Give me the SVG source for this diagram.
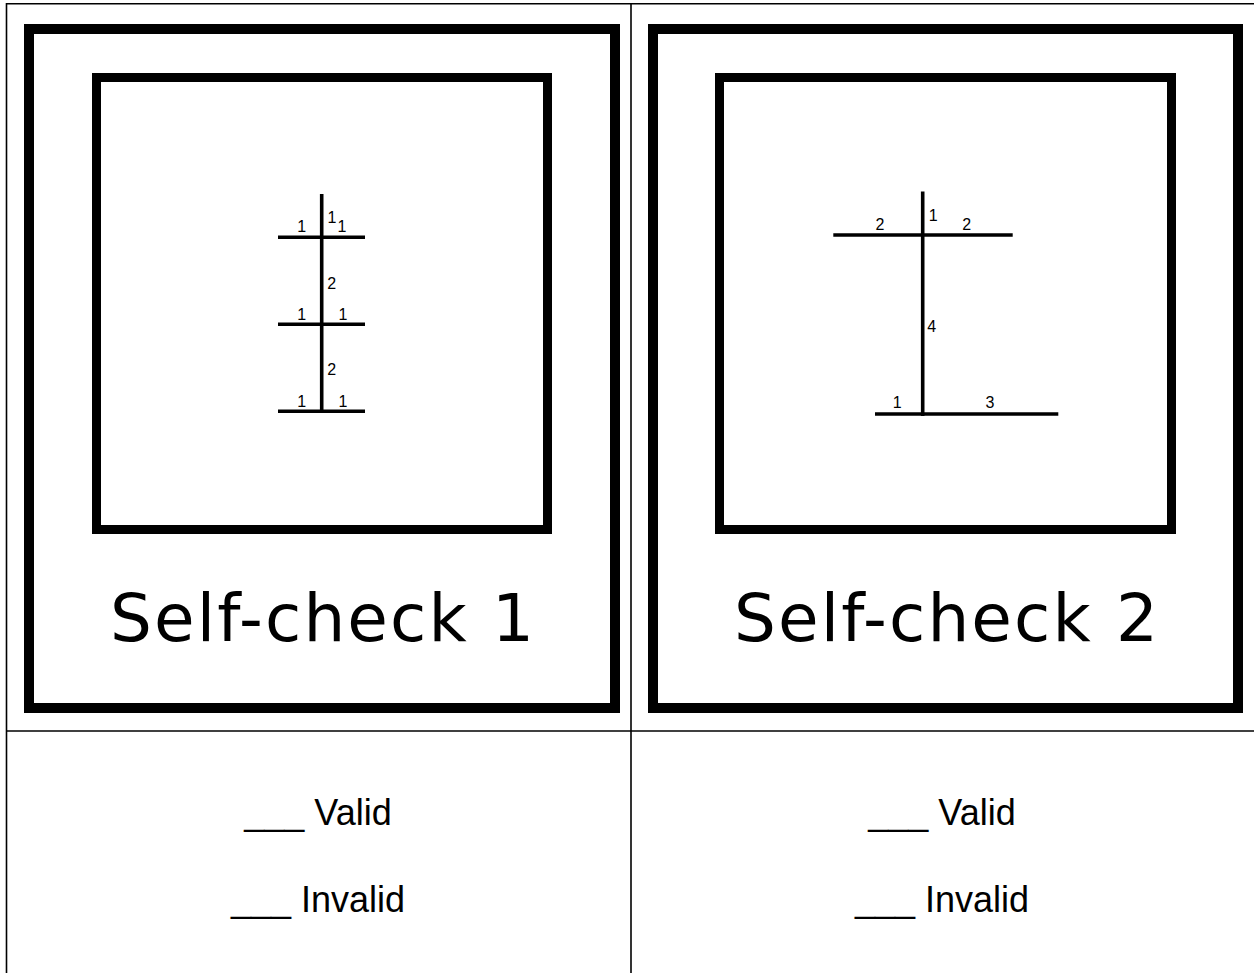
<svg xmlns="http://www.w3.org/2000/svg" width="1254" height="973" viewBox="0 0 1254 973">
<style>
.grid{stroke:#000;stroke-width:1.6;fill:none}
.frame{fill:none;stroke:#000;stroke-width:10}
.inner{fill:none;stroke:#000;stroke-width:9}
.bar{stroke:#000;stroke-width:3.6;stroke-linecap:butt}
.num{font-family:"Liberation Sans",Arial,sans-serif;font-size:16px;fill:#000;text-anchor:middle}
.title{font-family:"DejaVu Sans",Verdana,sans-serif;font-size:66px;fill:#000;text-anchor:middle}
.ans{font-family:"Liberation Sans",Arial,sans-serif;font-size:36px;fill:#000;text-anchor:middle}
</style>
<rect width="1254" height="973" fill="#fff"/>
<g id="table">
<line class="grid" x1="6.5" y1="3.7" x2="1254" y2="3.7"/>
<line class="grid" x1="6.5" y1="3" x2="6.5" y2="973"/>
<line class="grid" x1="631" y1="3" x2="631" y2="973"/>
<line class="grid" x1="6" y1="731" x2="1254" y2="731"/>
</g>
<g id="card1">
<rect class="frame" x="29" y="29" width="586" height="679"/>
<rect class="inner" x="96.5" y="77.5" width="451" height="452"/>
<text class="title" x="322" y="641" textLength="424" lengthAdjust="spacing">Self-check 1</text>
</g>
<g id="figure1">
<line class="bar" x1="321.7" y1="194" x2="321.7" y2="413"/>
<line class="bar" x1="278" y1="237.3" x2="365" y2="237.3"/>
<line class="bar" x1="278" y1="324.3" x2="365" y2="324.3"/>
<line class="bar" x1="278" y1="411.3" x2="365" y2="411.3"/>
<text class="num" x="301.7" y="231.5">1</text>
<text class="num" x="332" y="222.5">1</text>
<text class="num" x="342" y="231.5">1</text>
<text class="num" x="331.7" y="288.5">2</text>
<text class="num" x="301.7" y="320">1</text>
<text class="num" x="343" y="320">1</text>
<text class="num" x="331.7" y="375">2</text>
<text class="num" x="301.7" y="406.5">1</text>
<text class="num" x="343" y="406.5">1</text>
</g>
<g id="card2">
<rect class="frame" x="653" y="29" width="585" height="679"/>
<rect class="inner" x="719.5" y="77.5" width="452" height="452"/>
<text class="title" x="946" y="641" textLength="424" lengthAdjust="spacing">Self-check 2</text>
</g>
<g id="figure2">
<line class="bar" x1="922.7" y1="191.5" x2="922.7" y2="416"/>
<line class="bar" x1="833.3" y1="235" x2="1012.7" y2="235"/>
<line class="bar" x1="875" y1="414" x2="1058.3" y2="414"/>
<text class="num" x="880" y="230">2</text>
<text class="num" x="933.3" y="220.7">1</text>
<text class="num" x="966.7" y="230">2</text>
<text class="num" x="931.7" y="331.7">4</text>
<text class="num" x="897.3" y="408.3">1</text>
<text class="num" x="990" y="408.3">3</text>
</g>
<g id="answers1">
<text class="ans" x="318" y="825">___ Valid</text>
<text class="ans" x="318" y="912">___ Invalid</text>
</g>
<g id="answers2">
<text class="ans" x="942" y="825">___ Valid</text>
<text class="ans" x="942" y="912">___ Invalid</text>
</g>
</svg>
